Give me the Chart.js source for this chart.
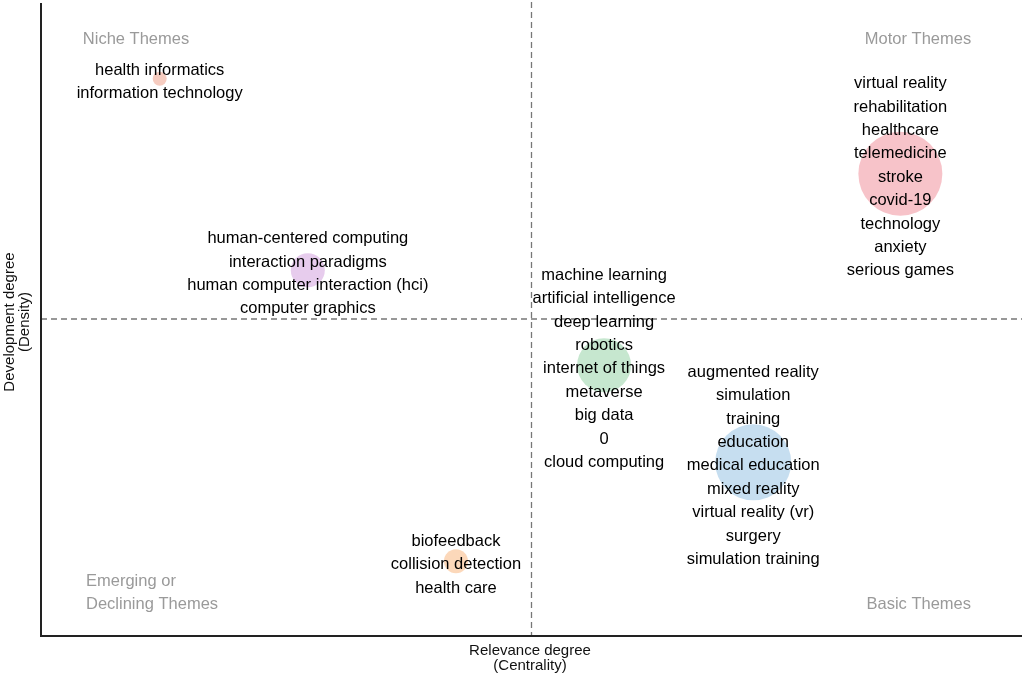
<!DOCTYPE html>
<html><head><meta charset="utf-8">
<script src="https://cdn.jsdelivr.net/npm/chart.js@4"></script>
<style>html,body{margin:0;padding:0;background:#fff}#wrap{width:1024px;height:679px}</style>
</head><body><div id="wrap"><canvas id="c" width="1024" height="679"></canvas></div>
<script>
// Thematic map data (centrality, density, bubble radius)
const clusterNames = ["motor", "hci", "informatics", "ml", "education", "biofeedback"];
const centrality = [87.6, 27.2, 12.1, 57.4, 72.6, 42.3];
const density = [72.9, 57.7, 87.9, 42.7, 27.4, 11.8];
const bubbleSize = [42, 17, 7, 27, 38, 12];
const bubbleColors = ["rgba(242,155,165,0.6)", "rgba(215,170,225,0.6)", "rgba(240,170,150,0.6)", "rgba(160,215,175,0.6)", "rgba(160,200,230,0.6)", "rgba(250,190,140,0.6)"];
const clusterLabels = [
  ["virtual reality","rehabilitation","healthcare","telemedicine","stroke","covid-19","technology","anxiety","serious games"],
  ["human-centered computing","interaction paradigms","human computer interaction (hci)","computer graphics"],
  ["health informatics","information technology"],
  ["machine learning","artificial intelligence","deep learning","robotics","internet of things","metaverse","big data","0","cloud computing"],
  ["augmented reality","simulation","training","education","medical education","mixed reality","virtual reality (vr)","surgery","simulation training"],
  ["biofeedback","collision detection","health care"]
];
const quadrantNames = [["Niche Themes"],["Motor Themes"],["Emerging or","Declining Themes"],["Basic Themes"]];
const xTitle = ["Relevance degree","(Centrality)"];
const yTitle = ["Development degree","(Density)"];
const midX = 50, midY = 50;

const FONT = '"Liberation Sans", Arial, Helvetica, sans-serif';

const datasets = clusterNames.map((n,i)=>({
  label: n,
  data: [{x: centrality[i], y: density[i], r: bubbleSize[i]}],
  backgroundColor: bubbleColors[i],
  borderWidth: 0
}));

const overlay = {
  id: 'overlay',
  beforeDatasetsDraw(chart){
    const ctx = chart.ctx, xs = chart.scales.x, ys = chart.scales.y, a = chart.chartArea;
    ctx.save();
    ctx.strokeStyle = '#777';
    ctx.lineWidth = 1.3;
    ctx.setLineDash([6,4]);
    const px = xs.getPixelForValue(midX), py = ys.getPixelForValue(midY);
    ctx.beginPath(); ctx.moveTo(px, a.top); ctx.lineTo(px, a.bottom); ctx.stroke();
    ctx.beginPath(); ctx.moveTo(a.left, py); ctx.lineTo(a.right, py); ctx.stroke();
    ctx.restore();
  },
  afterDatasetsDraw(chart){
    const ctx = chart.ctx, xs = chart.scales.x, ys = chart.scales.y, a = chart.chartArea;
    ctx.save();
    ctx.font = '16.5px ' + FONT;
    ctx.textAlign = 'center';
    ctx.textBaseline = 'middle';
    ctx.fillStyle = '#000';
    const lh = 23.4;
    clusterLabels.forEach((lines,i)=>{
      const cx = xs.getPixelForValue(centrality[i]);
      const cy = ys.getPixelForValue(density[i]) + 3.5;
      lines.forEach((t,j)=>{
        ctx.fillText(t, cx, cy + (j - (lines.length-1)/2)*lh);
      });
    });
    // quadrant labels
    ctx.fillStyle = '#9a9a9a';
    ctx.textAlign = 'center';
    ctx.fillText(quadrantNames[0][0], a.left + 95, a.top + 37);
    ctx.fillText(quadrantNames[1][0], a.right - 104, a.top + 37);
    ctx.textAlign = 'left';
    ctx.fillText(quadrantNames[2][0], a.left + 45, a.bottom - 55);
    ctx.fillText(quadrantNames[2][1], a.left + 45, a.bottom - 32);
    ctx.textAlign = 'right';
    ctx.fillText(quadrantNames[3][0], a.right - 51, a.bottom - 32);
    // axis titles
    ctx.fillStyle = '#111';
    ctx.font = '15px ' + FONT;
    ctx.textAlign = 'center';
    ctx.fillText(xTitle[0], 530, 651);
    ctx.fillText(xTitle[1], 530, 666);
    ctx.save();
    ctx.translate(10, 322);
    ctx.rotate(-Math.PI/2);
    ctx.fillText(yTitle[0], 0, 0);
    ctx.fillText(yTitle[1], 0, 15);
    ctx.restore();
    // axis lines
    ctx.strokeStyle = '#222';
    ctx.lineWidth = 2;
    ctx.beginPath();
    ctx.moveTo(a.left, 3); ctx.lineTo(a.left, a.bottom); ctx.lineTo(a.right, a.bottom);
    ctx.stroke();
    ctx.restore();
  }
};

new Chart(document.getElementById('c'), {
  type: 'bubble',
  data: { datasets },
  options: {
    responsive: false,
    animation: false,
    layout: { autoPadding: false, padding: { top: 2, right: 2, left: 0, bottom: 0 } },
    plugins: { legend: { display: false }, tooltip: { enabled: false } },
    scales: {
      x: { min: 0, max: 100, ticks: { display: false }, grid: { display: false, drawTicks: false }, border: { display: false },
           afterFit(s){ s.height = 43; } },
      y: { min: 0, max: 100, ticks: { display: false }, grid: { display: false, drawTicks: false }, border: { display: false },
           afterFit(s){ s.width = 41; } }
    }
  },
  plugins: [overlay]
});
</script>
</body></html>
